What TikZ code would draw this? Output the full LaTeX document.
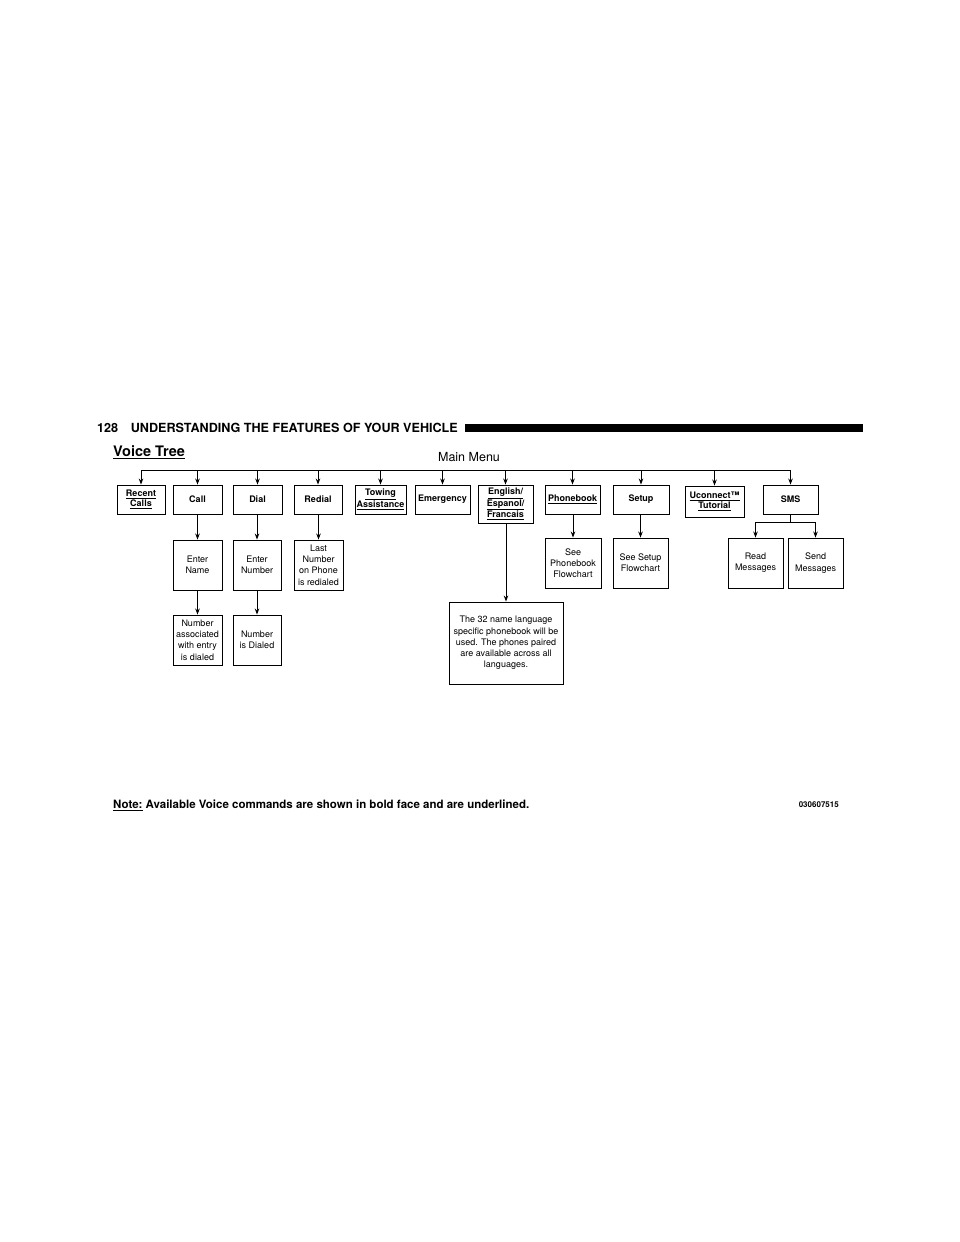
\documentclass[tikz,border=0pt]{standalone}
\usepackage{fontspec}
\setmainfont{TeX Gyre Heros}
\usetikzlibrary{arrows.meta}

\begin{document}
\begin{tikzpicture}[x=1pt,y=-1pt,
  cmd/.style={draw,line width=0.9pt,align=center,inner sep=1pt,font=\bfseries\fontsize{9}{10.5}\selectfont},
  info/.style={draw,line width=0.9pt,align=center,inner sep=1pt,font=\fontsize{9}{11.3}\selectfont},
  link/.style={line width=0.9pt,-{Stealth[length=6pt,width=4.5pt]}}]
  \useasboundingbox (0,0) rectangle (960,1242);
  \node[anchor=west,inner sep=0,font=\bfseries\fontsize{12.6}{13}\selectfont] (pagehead) at (97,428) {128\quad UNDERSTANDING THE FEATURES OF YOUR VEHICLE}; %見出し
  \fill (465,424) rectangle (863,432); %黒帯
  \node[anchor=west,inner sep=0,font=\bfseries\fontsize{14.5}{15}\selectfont] (title) at (113,452) {\underline{Voice Tree}};
  \node[font=\fontsize{12.5}{14}\selectfont] (mainmenu) at (469,457) {Main Menu};
  % 一段目
  \node[cmd,minimum width=48,minimum height=29] (recent) at (141,499.5) {\underline{Recent}\\\underline{Calls}};
  \node[cmd,minimum width=49,minimum height=29] (call) at (197.5,499.5) {Call};
  \node[cmd,minimum width=49,minimum height=29] (dial) at (257.5,499.5) {Dial};
  \node[cmd,minimum width=48,minimum height=29] (redial) at (318,499.5) {Redial};
  \node[cmd,minimum width=51,minimum height=29] (towing) at (380.5,499.5) {\underline{Towing}\\\underline{Assistance}};
  \node[cmd,minimum width=55,minimum height=29] (emergency) at (442.5,499.5) {Emergency};
  \node[cmd,minimum width=55,minimum height=38] (english) at (505.5,504) {\underline{English/}\\\underline{Espanol/}\\\underline{Francais}};
  \node[cmd,minimum width=55,minimum height=29] (phonebook) at (572.5,499.5) {\underline{Phonebook}};
  \node[cmd,minimum width=56,minimum height=29] (setup) at (641,499.5) {Setup};
  \node[cmd,minimum width=59,minimum height=31] (uconnect) at (714.5,501.5) {\underline{Uconnect™}\\\underline{Tutorial}};
  \node[cmd,minimum width=55,minimum height=29] (sms) at (790.5,499.5) {SMS};
  % 二段目
  \node[info,minimum width=49,minimum height=50] (entername) at (197.5,565) {Enter\\Name};
  \node[info,minimum width=48,minimum height=50] (enternum) at (257,565) {Enter\\Number};
  \node[info,minimum width=49,minimum height=50] (lastnum) at (318.5,565) {Last\\Number\\on Phone\\is redialed};
  \node[info,minimum width=56,minimum height=50] (seepb) at (573,563) {See\\Phonebook\\Flowchart};
  \node[info,minimum width=55,minimum height=50] (seesetup) at (640.5,563) {See Setup\\Flowchart};
  \node[info,minimum width=55,minimum height=50] (read) at (755.5,563) {Read\\Messages};
  \node[info,minimum width=55,minimum height=50] (send) at (815.5,563) {Send\\Messages};
  % 三段目
  \node[info,minimum width=49,minimum height=50] (numassoc) at (197.5,640) {Number\\associated\\with entry\\is dialed};
  \node[info,minimum width=48,minimum height=50] (numdialed) at (257,640) {Number\\is Dialed};
  \node[info,minimum width=114,minimum height=82] (langnote) at (506,643) {The 32 name language\\specific phonebook will be\\used. The phones paired\\are available across all\\languages.};
  % 線
  \coordinate (bus) at (141,470);
  \draw[line width=0.9pt] (recent.north |- bus) -- (sms.north |- bus); %幹線
  \foreach \n in {recent,call,dial,redial,towing,emergency,english,phonebook,setup,uconnect,sms}
    \draw[link] (\n.north |- bus) -- (\n.north);
  \draw[link] (call) -- (entername);
  \draw[link] (entername) -- (numassoc);
  \draw[link] (dial.south -| enternum) -- (enternum);
  \draw[link] (enternum) -- (numdialed);
  \draw[link] (redial.south -| lastnum) -- (lastnum);
  \draw[link] (english.south -| langnote) -- (langnote);
  \draw[link] (phonebook.south -| seepb) -- (seepb);
  \draw[link] (setup.south -| seesetup) -- (seesetup);
  \coordinate (smsfork) at (790.5,522);
  \draw[line width=0.9pt] (sms) -- (smsfork);
  \draw[line width=0.9pt] (read.north |- smsfork) -- (send.north |- smsfork);
  \draw[link] (read.north |- smsfork) -- (read.north);
  \draw[link] (send.north |- smsfork) -- (send.north);
  % 注記
  \node[anchor=west,inner sep=0,font=\bfseries\fontsize{11.5}{13}\selectfont] (footnote) at (113,805) {\underline{Note:} Available Voice commands are shown in bold face and are underlined.};
  \node[anchor=east,inner sep=0,font=\bfseries\fontsize{8}{9}\selectfont] (figcode) at (839,805) {030607515};
\end{tikzpicture}
\end{document}
